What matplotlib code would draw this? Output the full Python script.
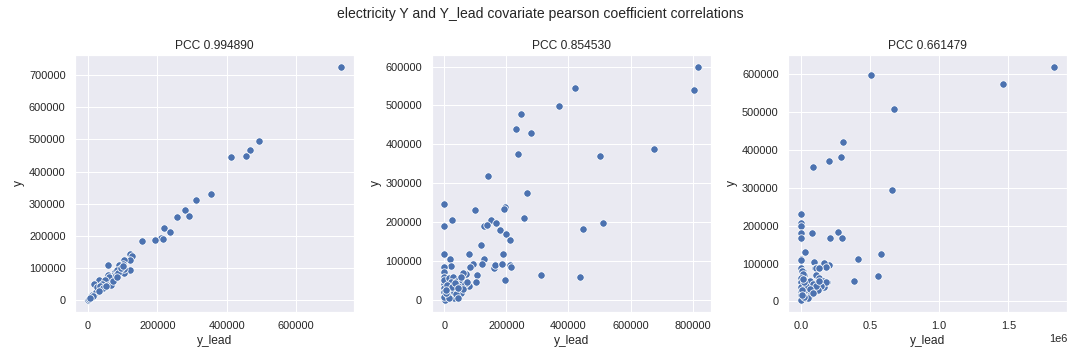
import matplotlib
matplotlib.use("Agg")
import matplotlib.pyplot as plt
import seaborn as sns

# panel 1: electricity y vs y_lead (lag 1)
lead_1 = [730000, 492000, 467000, 456000, 413000, 356000, 312000, 279000, 290000, 258000,
          219000, 236000, 210000, 216000, 193000, 155000, 122000, 128000, 122000, 104000,
          102000, 122000, 104000, 90000, 103000, 59000, 79000, 85000, 70000, 57000,
          69000, 75000, 47000, 33000, 17000, 60000, 52000, 40000, 45000, 30000,
          25000, 35000, 20000, 15000, 10000, 19000, 5000, 0, 3000, 8000,
          12000, 28000, 38000, 50000, 55000, 65000, 62000, 80000, 88000, 95000,
          100000, 48000, 42000, 22000, 26000, 58000, 66000, 72000, 83000, 36000,
          44000, 53000, 31000, 14000, 7000]
y_1 = [727000, 494000, 468000, 448000, 445000, 331000, 312000, 281000, 260000, 257000,
       223000, 213000, 192000, 189000, 186000, 182000, 142000, 136000, 124000, 124000,
       111000, 93000, 84000, 108000, 96000, 108000, 87000, 92000, 75000, 76000,
       69000, 65000, 56000, 61000, 51000, 55000, 48000, 45000, 38000, 35000,
       28000, 30000, 22000, 18000, 12000, 19000, 5000, 0, 2000, 9000,
       15000, 32000, 40000, 52000, 60000, 58000, 70000, 78000, 85000, 100000,
       106000, 62000, 50000, 25000, 40000, 46000, 45000, 58000, 70000, 42000,
       36000, 44000, 27000, 13000, 6000]

# panel 2
lead_2 = [817000, 806000, 421000, 370000, 246000, 230000, 278000, 238000, 677000, 503000,
          140000, 265000, 0, 99000, 195000, 191000, 255000, 26000, 150000, 165000,
          511000, 129000, 138000, 0, 179000, 198000, 447000, 211000, 118000, 80000,
          188000, 0, 19000, 128000, 22000, 0, 0, 120000, 92000, 84000,
          160000, 163000, 185000, 211000, 214000, 310000, 437000, 195000, 105000, 102000,
          70000, 61000, 80000, 0, 3000, 0, 0, 0, 0, 0,
          14000, 20000, 28000, 35000, 42000, 50000, 58000, 66000, 74000, 10000,
          18000, 25000, 32000, 40000, 48000, 55000, 30000, 38000, 45000, 22000,
          12000, 8000, 60000, 52000, 26000, 16000, 5000, 34000, 44000, 6000]
y_2 = [600000, 539000, 546000, 498000, 478000, 440000, 429000, 376000, 389000, 371000,
       318000, 274000, 246000, 231000, 239000, 234000, 211000, 206000, 206000, 198000,
       198000, 191000, 193000, 191000, 180000, 170000, 183000, 155000, 142000, 119000,
       119000, 117000, 104000, 104000, 86000, 84000, 72000, 91000, 91000, 84000,
       81000, 89000, 91000, 89000, 84000, 64000, 58000, 51000, 64000, 46000,
       66000, 69000, 36000, 59000, 0, 42000, 31000, 20000, 8000, 50000,
       55000, 40000, 58000, 30000, 48000, 36000, 52000, 40000, 45000, 12000,
       22000, 10000, 20000, 10000, 25000, 18000, 6000, 14000, 5000, 45000,
       30000, 38000, 28000, 58000, 32000, 4000, 18000, 44000, 30000, 26000]

# panel 3
lead_3 = [1832000, 1462000, 507000, 672000, 306000, 292000, 206000, 89000, 658000, 0,
          0, 0, 0, 0, 77000, 270000, 213000, 299000, 26000, 0,
          414000, 579000, 98000, 170000, 206000, 184000, 105000, 127000, 385000, 557000,
          0, 12000, 19000, 69000, 141000, 191000, 170000, 148000, 165000, 184000,
          108000, 129000, 112000, 131000, 160000, 179000, 93000, 69000, 146000, 0,
          9000, 17000, 0, 0, 0, 0, 0, 0, 2000, 30000,
          45000, 60000, 80000, 100000, 120000, 35000, 55000, 75000, 90000, 110000,
          40000, 25000, 50000, 65000, 15000, 85000, 20000, 10000, 5000, 130000]
y_3 = [620000, 573000, 597000, 507000, 420000, 381000, 371000, 355000, 294000, 231000,
       208000, 200000, 181000, 168000, 181000, 184000, 168000, 168000, 131000, 113000,
       113000, 124000, 105000, 102000, 97000, 92000, 89000, 89000, 53000, 68000,
       87000, 79000, 71000, 55000, 60000, 50000, 37000, 42000, 101000, 92000,
       89000, 88000, 70000, 61000, 54000, 50000, 30000, 13000, 41000, 108000,
       80000, 72000, 62000, 50000, 38000, 26000, 16000, 6000, 4000, 20000,
       30000, 25000, 35000, 28000, 30000, 10000, 15000, 20000, 45000, 40000,
       40000, 52000, 8000, 32000, 60000, 22000, 12000, 30000, 18000, 55000]

titles = ["PCC 0.994890", "PCC 0.854530", "PCC 0.661479"]
panels = [(lead_1, y_1), (lead_2, y_2), (lead_3, y_3)]

sns.set_theme(style="darkgrid")
plt.rcParams["font.family"] = ["Liberation Sans", "DejaVu Sans"]

fig, axes = plt.subplots(1, 3, figsize=(15, 5), dpi=72)
for ax, (xs, ys), title in zip(axes, panels, titles):
    sns.scatterplot(x=xs, y=ys, ax=ax, color="#4c72b0", s=55, linewidth=0.8)
    ax.set_title(title)
    ax.set_xlabel("y_lead")
    ax.set_ylabel("y")

fig.suptitle("electricity Y and Y_lead covariate pearson coefficient correlations", fontsize=14)
fig.tight_layout()
fig.savefig("out.png", dpi=72)
